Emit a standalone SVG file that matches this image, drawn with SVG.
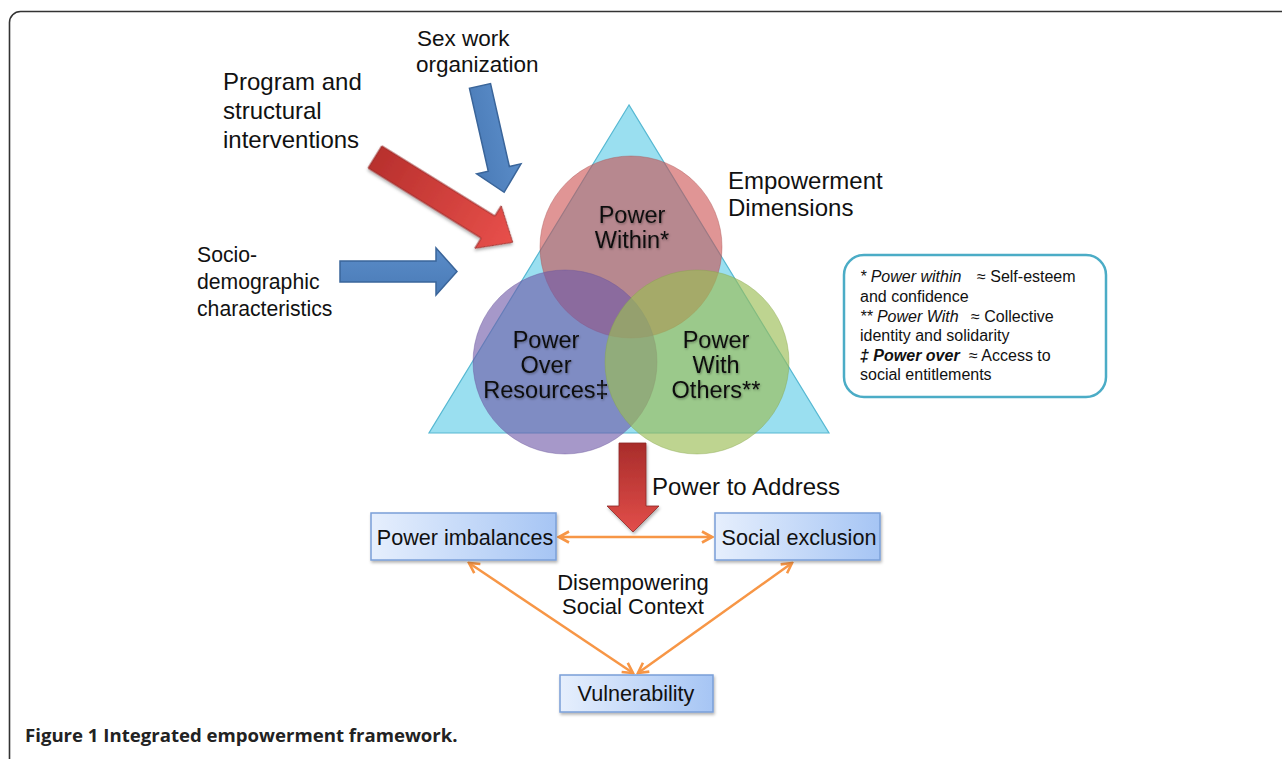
<svg xmlns="http://www.w3.org/2000/svg" width="1282" height="759" viewBox="0 0 1282 759">
<defs>
<style>
.t{font-family:"Liberation Sans",Arial,sans-serif;fill:#111}
.ct{font-family:"Liberation Sans",Arial,sans-serif;font-size:23.5px;fill:#111;text-anchor:middle}
.bx{stroke:#7a9fd8;stroke-width:1.5;fill:url(#boxg)}
.bt{font-family:"Liberation Sans",Arial,sans-serif;font-size:21.6px;fill:#111;text-anchor:middle}
.lg{font-family:"Liberation Sans",Arial,sans-serif;font-size:16px;fill:#111}
.blue{fill:url(#blueg);stroke:#3a659a;stroke-width:1.5}
.oc{stroke:#f79646;stroke-width:2.5;fill:none;marker-start:url(#oa);marker-end:url(#oa)}
</style>
<linearGradient id="boxg" x1="0" y1="0" x2="1" y2="0">
<stop offset="0" stop-color="#e6effd"/>
<stop offset="1" stop-color="#a6c5f4"/>
</linearGradient>
<linearGradient id="blueg" x1="0" y1="0" x2="0" y2="1">
<stop offset="0" stop-color="#5a8cc8"/>
<stop offset="1" stop-color="#4a7bb7"/>
</linearGradient>
<linearGradient id="redv" x1="0" y1="0" x2="0" y2="1">
<stop offset="0" stop-color="#a82c2a"/>
<stop offset="1" stop-color="#e24e4a"/>
</linearGradient>
<linearGradient id="redd" x1="0" y1="0" x2="1" y2="0">
<stop offset="0" stop-color="#b8302d"/>
<stop offset="1" stop-color="#e8504b"/>
</linearGradient>
<filter id="sh" x="-10%" y="-10%" width="130%" height="140%">
<feDropShadow dx="1" dy="2" stdDeviation="1.5" flood-color="#000" flood-opacity="0.3"/>
</filter>
<filter id="tsh" x="-5%" y="-5%" width="115%" height="130%">
<feDropShadow dx="0.8" dy="1.2" stdDeviation="0.8" flood-color="#000" flood-opacity="0.35"/>
</filter>
<marker id="oa" viewBox="0 0 14 14" refX="12" refY="7" markerWidth="14" markerHeight="14" markerUnits="userSpaceOnUse" orient="auto-start-reverse">
<path d="M2,1.5 L12,7 L2,12.5" fill="none" stroke="#f79646" stroke-width="2.6"/>
</marker>
</defs>
<rect width="1282" height="759" fill="#fff"/>
<rect x="9.5" y="11.5" width="1300" height="800" rx="11" fill="none" stroke="#333" stroke-width="1.6"/>

<g id="input-texts">
<text class="t" font-size="24"><tspan x="223" y="90">Program and</tspan><tspan x="223" y="119">structural</tspan><tspan x="223" y="148">interventions</tspan></text>
<text class="t" font-size="22.5"><tspan x="417" y="46">Sex work</tspan><tspan x="416" y="72">organization</tspan></text>
<text class="t" font-size="21.2"><tspan x="197" y="262">Socio-</tspan><tspan x="197" y="289">demographic</tspan><tspan x="197" y="316">characteristics</tspan></text>
</g>

<g id="input-arrows">
<polygon class="blue" transform="translate(480,86) rotate(77.2)" points="0,-10.8 85,-10.8 85,-22.7 109,0 85,22.7 85,10.8 0,10.8"/>
<polygon transform="translate(375,157) rotate(31.8)" points="0,-13 133,-13 133,-25 162,0 133,25 133,13 0,13" fill="url(#redd)" stroke="#9a2d2a" stroke-width="1" filter="url(#sh)"/>
<polygon class="blue" points="340,261 436,261 436,248 457,271.5 436,295 436,282 340,282"/>
</g>

<g id="triangle">
<polygon points="629,105 429,433 829,433" fill="#9adff0" stroke="#56b8d2" stroke-width="1.2"/>
</g>

<g id="power-within">
<circle cx="631" cy="247" r="91" fill="#cc4f4f" fill-opacity="0.6" stroke="#a8504f" stroke-opacity="0.4"/>
<text class="ct" filter="url(#tsh)"><tspan x="632" y="223">Power</tspan><tspan x="632" y="248">Within*</tspan></text>
</g>
<g id="power-over">
<circle cx="565" cy="362" r="92" fill="#6f58a8" fill-opacity="0.62" stroke="#6a549a" stroke-opacity="0.4"/>
</g>
<g id="power-with">
<circle cx="697" cy="362" r="92" fill="#9bbd55" fill-opacity="0.65" stroke="#86a44c" stroke-opacity="0.4"/>
</g>
<g id="circle-labels" filter="url(#tsh)">
<text class="ct"><tspan x="546" y="348">Power</tspan><tspan x="546" y="373">Over</tspan><tspan x="546" y="398">Resources‡</tspan></text>
<text class="ct"><tspan x="716" y="348">Power</tspan><tspan x="716" y="373">With</tspan><tspan x="716" y="398">Others**</tspan></text>
</g>

<g id="empowerment-label">
<text class="t" font-size="24"><tspan x="728" y="189">Empowerment</tspan><tspan x="728" y="216">Dimensions</tspan></text>
</g>

<g id="legend">
<rect x="844" y="255" width="262" height="142" rx="20" fill="#fff" stroke="#4bacc6" stroke-width="2.5"/>
<text class="lg" y="282"><tspan x="860" font-style="italic">* Power within</tspan><tspan x="977">≈ Self-esteem</tspan></text>
<text class="lg" x="860" y="302">and confidence</text>
<text class="lg" y="322"><tspan x="860" font-style="italic">** Power With</tspan><tspan x="971">≈ Collective</tspan></text>
<text class="lg" x="860" y="341">identity and solidarity</text>
<text class="lg" y="361"><tspan x="860" font-style="italic" font-weight="bold">‡ Power over</tspan><tspan x="969">≈ Access to</tspan></text>
<text class="lg" x="860" y="380">social entitlements</text>
</g>

<g id="power-to-address">
<polygon points="619,443 646,443 646,506 659,506 633,532 607,506 619,506" fill="url(#redv)" stroke="#8e2826" stroke-width="0.8" filter="url(#sh)"/>
<text class="t" font-size="24" x="652" y="495">Power to Address</text>
</g>

<g id="connectors">
<line class="oc" x1="559" y1="537" x2="712" y2="537"/>
<line class="oc" x1="469" y1="563" x2="633" y2="673"/>
<line class="oc" x1="792" y1="563" x2="638" y2="673"/>
</g>

<g id="power-imbalances">
<rect class="bx" x="371" y="513" width="185" height="47" filter="url(#sh)"/>
<text class="bt" x="465" y="545">Power imbalances</text>
</g>
<g id="social-exclusion">
<rect class="bx" x="715" y="513" width="165" height="47" filter="url(#sh)"/>
<text class="bt" x="799" y="545">Social exclusion</text>
</g>
<g id="vulnerability">
<rect class="bx" x="560" y="675" width="153" height="37" filter="url(#sh)"/>
<text class="bt" x="636" y="701">Vulnerability</text>
</g>

<g id="context-label">
<text class="t" font-size="22" text-anchor="middle"><tspan x="633" y="590">Disempowering</tspan><tspan x="633" y="614">Social Context</tspan></text>
</g>

<text x="25" y="742" font-family="'Open Sans',sans-serif" font-weight="bold" font-size="18.6" fill="#222">Figure 1 Integrated empowerment framework.</text>
</svg>
